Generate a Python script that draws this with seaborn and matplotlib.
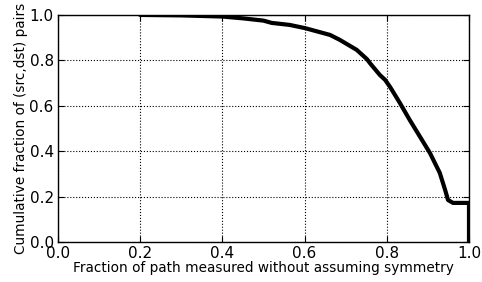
import seaborn as sns
import matplotlib.pyplot as plt
import pandas as pd

# fraction of path measured (x) vs cumulative fraction of pairs (y)
frac_path = [0.20, 0.30, 0.40, 0.45, 0.50, 0.52, 0.564, 0.601, 0.662, 0.686, 0.727,
             0.752, 0.759, 0.783, 0.796, 0.808, 0.832, 0.856, 0.881, 0.905, 0.929,
             0.942, 0.949, 0.961, 1.00, 1.00]
cum_frac = [1.00, 0.998, 0.993, 0.985, 0.975, 0.965, 0.956, 0.942, 0.912, 0.89, 0.846,
            0.805, 0.788, 0.736, 0.714, 0.683, 0.612, 0.537, 0.463, 0.392, 0.304,
            0.229, 0.185, 0.172, 0.172, 0.0]

df = pd.DataFrame({"x": frac_path, "y": cum_frac})

sns.set_style("ticks")
plt.rcParams["font.family"] = ["DejaVu Sans"]
plt.rcParams["text.color"] = "black"
plt.rcParams["axes.labelcolor"] = "black"
plt.rcParams["xtick.color"] = "black"
plt.rcParams["ytick.color"] = "black"

fig, ax = plt.subplots(figsize=(4.82, 2.82), dpi=100)
sns.lineplot(data=df, x="x", y="y", ax=ax, color="black", linewidth=3,
             sort=False, estimator=None)

ax.set_xlim(0, 1)
ax.set_ylim(0, 1)
ax.set_xticks([0, 0.2, 0.4, 0.6, 0.8, 1.0])
ax.set_yticks([0, 0.2, 0.4, 0.6, 0.8, 1.0])
ax.set_xticklabels(["0.0", "0.2", "0.4", "0.6", "0.8", "1.0"])
ax.set_yticklabels(["0.0", "0.2", "0.4", "0.6", "0.8", "1.0"])
ax.tick_params(direction="in", top=True, right=True, labelsize=11, length=4, pad=3)
ax.grid(True, color="black", linestyle=":", linewidth=0.8)
for s in ax.spines.values():
    s.set_color("black")
    s.set_linewidth(1)

ax.set_xlabel("Fraction of path measured without assuming symmetry", fontsize=9.8, labelpad=0)
ax.set_ylabel("Cumulative fraction of (src,dst) pairs", fontsize=9.8, labelpad=1)

fig.subplots_adjust(left=0.12, right=0.973, top=0.947, bottom=0.142)
fig.savefig("out.png", dpi=100)
